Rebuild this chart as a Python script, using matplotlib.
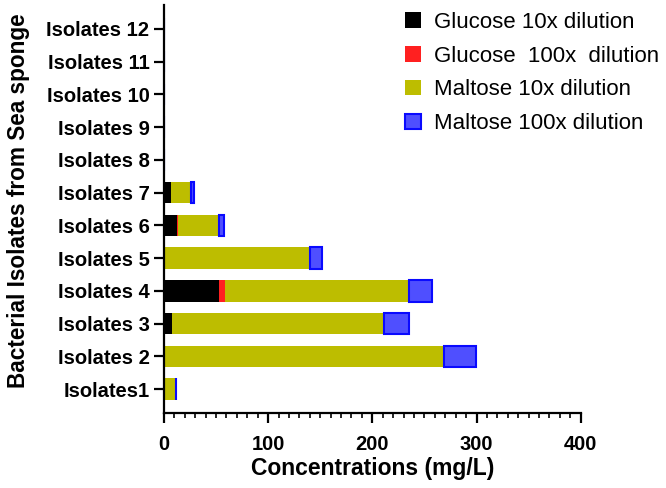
import numpy as np
import matplotlib
matplotlib.use("Agg")
import matplotlib.pyplot as plt
from matplotlib.ticker import MultipleLocator

plt.rcParams['font.family'] = ['Liberation Sans', 'DejaVu Sans']

# data (mg/L, stacked segments)
isolates = ['Isolates1', 'Isolates 2', 'Isolates 3', 'Isolates 4', 'Isolates 5', 'Isolates 6',
            'Isolates 7', 'Isolates 8', 'Isolates 9', 'Isolates 10', 'Isolates 11', 'Isolates 12']
glucose_10x = [0, 0, 7.4, 53, 0, 12.2, 6.4, 0, 0, 0, 0, 0]
glucose_100x = [0, 0, 0.5, 6, 0, 0.8, 0.3, 0, 0, 0, 0, 0]
maltose_10x = [11.5, 268.5, 203.5, 176, 140, 40, 19, 0, 0, 0, 0, 0]
maltose_100x = [0, 31, 23.5, 22, 12, 5, 2.9, 0, 0, 0, 0, 0]

series = [
    ("Glucose 10x dilution", glucose_10x, '#000000', '#000000'),
    ("Glucose  100x  dilution", glucose_100x, '#ff2020', '#ff2020'),
    ("Maltose 10x dilution", maltose_10x, '#bdbd00', '#bdbd00'),
    ("Maltose 100x dilution", maltose_100x, '#4f4fff', '#0a0aff'),
]

fig = plt.figure(figsize=(6.66, 4.88), dpi=100)
ax = fig.add_axes([0.2462, 0.1537, 0.6257, 0.8361])

y = np.arange(len(isolates))
left = np.zeros(len(isolates))
handles = []
for name, vals, fc, ec in series:
    vals = np.array(vals, dtype=float)
    lw = 1.5 if name.startswith("Maltose 100") else 0.0
    b = ax.barh(y, vals, left=left, height=0.66, color=fc, edgecolor=ec, linewidth=lw, label=name)
    handles.append(b)
    left += vals

ax.set_xlim(0, 400)
ax.set_ylim(-0.73, 11.73)
ax.set_yticks(y)
ax.set_yticklabels(isolates, fontsize=14.5, fontweight='bold')
ax.xaxis.set_major_locator(MultipleLocator(100))
ax.xaxis.set_minor_locator(MultipleLocator(10))
for lab in ax.get_xticklabels():
    lab.set_fontsize(14.5)
    lab.set_fontweight('bold')

ax.spines['top'].set_visible(False)
ax.spines['right'].set_visible(False)
ax.spines['left'].set_linewidth(1.6)
ax.spines['bottom'].set_linewidth(1.6)
ax.tick_params(axis='both', which='major', length=7, width=1.6)
ax.tick_params(axis='y', which='major', pad=3.5)
ax.tick_params(axis='x', which='major', pad=9)
ax.tick_params(axis='x', which='minor', length=3.5, width=1.2)

ax.set_xlabel('Concentrations (mg/L)', fontsize=16.5, fontweight='bold', labelpad=2)
ax.set_ylabel('Bacterial Isolates from Sea sponge', fontsize=16.3, fontweight='bold')
ax.yaxis.set_label_coords(-0.322, 0.52)

fig.legend(handles=handles, loc='upper left', bbox_to_anchor=(0.6075, 0.976),
           frameon=False, fontsize=16, handlelength=0.72, handleheight=0.7,
           handletextpad=0.59, labelspacing=0.58, borderaxespad=0, borderpad=0)

fig.savefig('out.png', dpi=100)
